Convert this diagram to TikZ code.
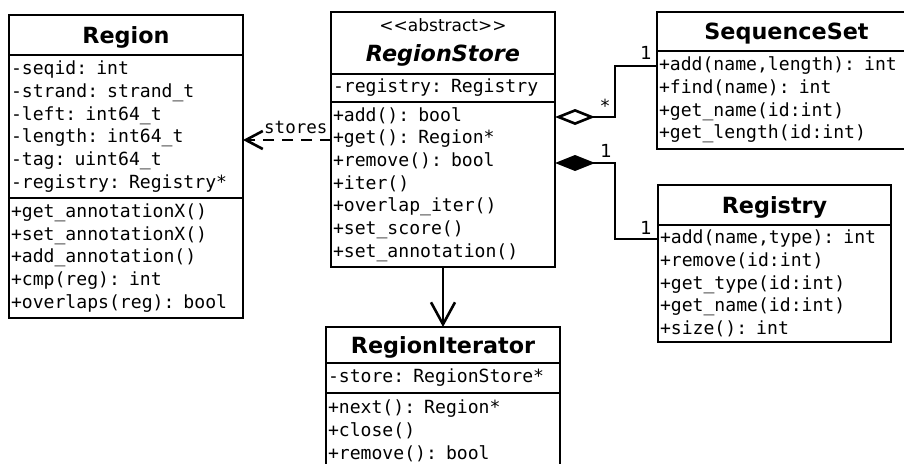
\documentclass[tikz,border=0pt]{standalone}
\usepackage{fontspec}
\newfontfamily\umlmono{DejaVu Sans Mono}
\newfontfamily\umlsans[Ligatures=TeXOff,ItalicFont={DejaVu Sans Oblique},BoldFont={DejaVu Sans Bold},BoldItalicFont={DejaVu Sans Bold Oblique}]{DejaVu Sans}
\usetikzlibrary{arrows.meta,calc}
\tikzset{
  umlbox/.style={draw, line width=2.6pt, inner sep=0pt, outer sep=0pt, anchor=north west},
  titlebox/.style={umlbox, font={\fontsize{22.3}{26}\umlsans\bfseries}, align=center, text height=16pt, text depth=0pt},
  listbox/.style={umlbox, font={\fontsize{18.1}{22.7}\umlmono}, align=left, inner xsep=2pt},
  stereo/.style={font={\fontsize{17}{20}\umlsans}, inner sep=0pt, text height=12.4pt, text depth=0pt},
  clsname/.style={font={\fontsize{22.3}{26}\umlsans\bfseries\itshape}, inner sep=0pt, text height=16pt, text depth=0pt},
  mult/.style={font={\fontsize{18}{20}\umlsans}, inner sep=0pt, text height=13pt, text depth=0pt},
  conn/.style={line width=2.6pt},
  depline/.style={conn, dash pattern=on 11pt off 8pt, -{Straight Barb[length=17pt,width=18pt]}},
  aggline/.style={conn, {Diamond[open,length=40pt,width=16pt]}-},
  compline/.style={conn, {Diamond[length=40pt,width=16pt]}-},
  navline/.style={conn, -{Straight Barb[length=22pt,width=24pt]}},
  lbl/.style={font={\fontsize{17.5}{20}\umlmono}, inner sep=0pt}
}
\begin{document}
\begin{tikzpicture}[x=1pt,y=-1pt]
\useasboundingbox (0,0) rectangle (904,463);

% Region
\node[titlebox, minimum width=234pt, minimum height=40pt] (regT) at (9,15) {Region};
\node[listbox, minimum width=234pt, text width=230pt, minimum height=143pt] (regA) at (regT.south west)
  {-seqid: int\\-strand: strand\_t\\-left: int64\_t\\-length: int64\_t\\-tag: uint64\_t\\-registry: Registry*};
\node[listbox, minimum width=234pt, text width=230pt, minimum height=120pt] (regM) at (regA.south west)
  {+get\_annotationX()\\+set\_annotationX()\\+add\_annotation()\\+cmp(reg): int\\+overlaps(reg): bool};

% RegionStore
\node[umlbox, minimum width=224pt, minimum height=62pt] (rsT) at (331,12) {};
\node[stereo] (rsS) at ($(rsT.north)+(0,13)$) {<<abstract>>};
\node[clsname] (rsN) at ($(rsT.north)+(0,41)$) {RegionStore};
\node[listbox, minimum width=224pt, text width=220pt, minimum height=28pt] (rsA) at (rsT.south west)
  {-registry: Registry};
\node[listbox, minimum width=224pt, text width=220pt, minimum height=165pt] (rsM) at (rsA.south west)
  {+add(): bool\\+get(): Region*\\+remove(): bool\\+iter()\\+overlap\_iter()\\+set\_score()\\+set\_annotation()};

% SequenceSet
\node[titlebox, minimum width=259pt, minimum height=39pt] (ssT) at (657,12) {SequenceSet};
\node[listbox, minimum width=259pt, text width=255pt, minimum height=98pt] (ssM) at (ssT.south west)
  {+add(name,length): int\\+find(name): int\\+get\_name(id:int)\\+get\_length(id:int)};

% Registry
\node[titlebox, minimum width=233pt, minimum height=40pt] (rgT) at (658,185) {Registry};
\node[listbox, minimum width=233pt, text width=229pt, minimum height=117pt] (rgM) at (rgT.south west)
  {+add(name,type): int\\+remove(id:int)\\+get\_type(id:int)\\+get\_name(id:int)\\+size(): int};

% RegionIterator
\node[titlebox, minimum width=234pt, minimum height=36pt] (riT) at (326,327) {RegionIterator};
\node[listbox, minimum width=234pt, text width=230pt, minimum height=30pt] (riA) at (riT.south west)
  {-store: RegionStore*};
\node[listbox, minimum width=234pt, text width=230pt, minimum height=76pt] (riM) at (riA.south west)
  {+next(): Region*\\+close()\\+remove(): bool};

% connectors
\draw[depline] ($(rsM.north west)+(0,38)$) coordinate (dS) -- (dS -| regA.east)
  node[lbl, pos=0.4, anchor=base, yshift=7pt] (storesLbl) {stores};
\draw[aggline] ($(rsM.north east)+(0,15)$) -- ++(60,0) |- ($(ssM.north west)+(0,15)$);
\draw[compline] ($(rsM.north east)+(0,61)$) -- ++(60,0) |- ($(rgM.north west)+(0,14)$);
\draw[navline] (rsM.south) -- (riT.north);

\node[mult] (mStar) at (605,105.5) {*};
\node[mult] (mSeq) at (646,53) {1};
\node[mult] (mComp) at (606,151) {1};
\node[mult] (mReg) at (646,228) {1};
\end{tikzpicture}
\end{document}
